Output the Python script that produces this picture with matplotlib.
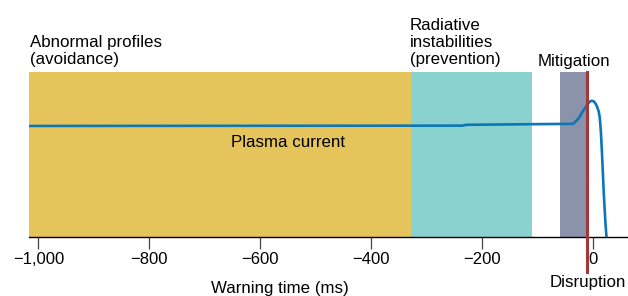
import numpy as np
import matplotlib
matplotlib.use('Agg')
from matplotlib import pyplot as plt
from matplotlib.ticker import FuncFormatter

plt.rcParams['font.family'] = ['Liberation Sans', 'DejaVu Sans']

# phase bands (ms before disruption)
band_names = ['Abnormal profiles\n(avoidance)', 'Radiative\ninstabilities\n(prevention)', 'Mitigation']
band_starts = [-1017, -327, -59]
band_ends = [-327, -109, -12.6]
band_colors = ['#E5C45B', '#89D2D0', '#8A93AA']

# plasma current trace (arbitrary units)
t_ms = [-1017, -235, -228, -35, -25, -18, -10, -6, -2, 2, 5, 8, 11, 13, 15, 17, 20, 23, 25]
current = [0.673, 0.675, 0.680, 0.686, 0.72, 0.76, 0.80, 0.818, 0.826, 0.822, 0.81, 0.79, 0.76, 0.72, 0.63, 0.50, 0.27, 0.09, 0.0]

disruption_t = -10
xticks = [-1000, -800, -600, -400, -200, 0]

fig = plt.figure(figsize=(6.28, 2.96), dpi=100)
W, H = 628, 296
ax = fig.add_axes([29 / W, (H - 237) / H, 598 / W, 165 / H])

for s, e, c in zip(band_starts, band_ends, band_colors):
    ax.axvspan(s, e, color=c, lw=0, zorder=1)

ax.plot(t_ms, current, color='#0B77B7', lw=1.9, zorder=3, solid_capstyle='butt')
ax.axvline(disruption_t, ymin=-0.21, ymax=1.0, color='#A3383A', lw=2.2, zorder=4, clip_on=False)

ax.set_xlim(-1017, 62)
ax.set_ylim(0, 1)
ax.set_xticks(xticks)
ax.xaxis.set_major_formatter(FuncFormatter(
    lambda v, p: '0' if v == 0 else '\u2212' + f'{abs(int(v)):,}'))
ax.set_yticks([])
for side in ['top', 'right', 'left']:
    ax.spines[side].set_visible(False)
ax.spines['bottom'].set_linewidth(1.0)
ax.tick_params(axis='x', length=8.5, width=0.9, color='#444444', pad=2.5, labelsize=12)

fs = 12.2
ax.text(-1016, 1.028, band_names[0], ha='left', va='bottom', fontsize=fs, linespacing=1.18, clip_on=False)
ax.text(-330, 1.028, band_names[1], ha='left', va='bottom', fontsize=fs, linespacing=1.18, clip_on=False)
ax.text(-98.8, 1.02, band_names[2], ha='left', va='bottom', fontsize=fs, clip_on=False)
ax.text(-550, 0.544, 'Plasma current', ha='center', va='baseline', fontsize=fs)
ax.text(-9.4, -0.301, 'Disruption', ha='center', va='baseline', fontsize=fs, clip_on=False)
ax.text(-565, -0.339, 'Warning time (ms)', ha='center', va='baseline', fontsize=fs, clip_on=False)

fig.savefig('out.png', dpi=100)
